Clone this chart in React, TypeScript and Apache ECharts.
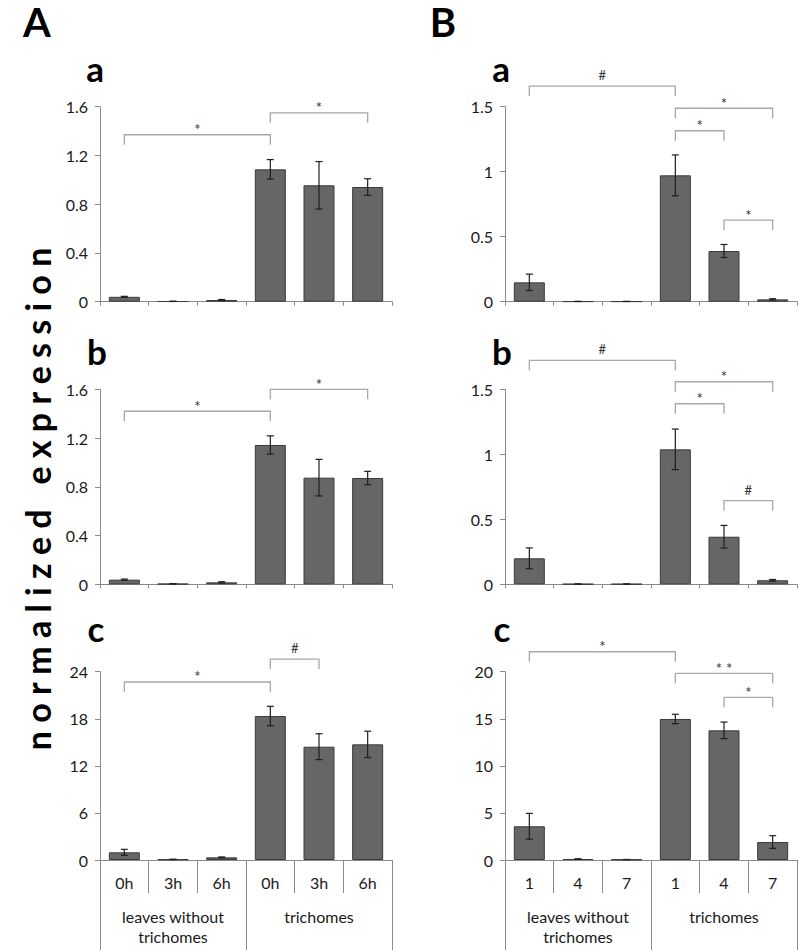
import React, { useEffect, useRef } from "react";
import * as echarts from "echarts";

// ---------- data ----------
const timeLabels = ["0h", "3h", "6h", "0h", "3h", "6h"];
const dayLabels = ["1", "4", "7", "1", "4", "7"];
const groupLabels = ["leaves without\ntrichomes", "trichomes"];

const yTicksA_ab = [0, 0.4, 0.8, 1.2, 1.6];
const yTicksA_c = [0, 6, 12, 18, 24];
const yTicksB_ab = [0, 0.5, 1, 1.5];
const yTicksB_c = [0, 5, 10, 15, 20];

const Aa_values = [0.04, 0.003, 0.014, 1.086, 0.955, 0.941];
const Aa_errors = [0.004, 0.001, 0.004, 0.08, 0.195, 0.068];
const Ab_values = [0.038, 0.004, 0.016, 1.143, 0.875, 0.872];
const Ab_errors = [0.005, 0.001, 0.005, 0.075, 0.15, 0.055];
const Ac_values = [0.98, 0.08, 0.34, 18.35, 14.44, 14.74];
const Ac_errors = [0.38, 0.02, 0.05, 1.24, 1.65, 1.68];

const Ba_values = [0.149, 0.002, 0.002, 0.972, 0.39, 0.018];
const Ba_errors = [0.063, 0, 0, 0.157, 0.05, 0.005];
const Bb_values = [0.2, 0.002, 0.002, 1.038, 0.366, 0.031];
const Bb_errors = [0.08, 0, 0, 0.156, 0.087, 0.006];
const Bc_values = [3.58, 0.1, 0.05, 14.98, 13.77, 1.91];
const Bc_errors = [1.37, 0.03, 0, 0.5, 0.88, 0.67];

// significance brackets: [fromIndex, toIndex, level, label]
const Aa_brackets: [number, number, number, string][] = [
  [0, 3, 1.37, "*"],
  [3, 5, 1.55, "*"],
];
const Ab_brackets: [number, number, number, string][] = [
  [0, 3, 1.42, "*"],
  [3, 5, 1.6, "*"],
];
const Ac_brackets: [number, number, number, string][] = [
  [0, 3, 22.69, "*"],
  [3, 4, 25.6, "#"],
];
const Ba_brackets: [number, number, number, string][] = [
  [0, 3, 1.659, "#"],
  [3, 5, 1.488, "*"],
  [3, 4, 1.315, "*"],
  [4, 5, 0.628, "*"],
];
const Bb_brackets: [number, number, number, string][] = [
  [0, 3, 1.723, "#"],
  [3, 5, 1.558, "*"],
  [3, 4, 1.389, "*"],
  [4, 5, 0.643, "#"],
];
const Bc_brackets: [number, number, number, string][] = [
  [0, 3, 22.12, "*"],
  [3, 5, 19.83, "* *"],
  [4, 5, 17.28, "*"],
];

// ---------- layout / style ----------
const FONT = "Lato, 'Open Sans', 'Noto Sans', sans-serif";
const AXIS_COLOR = "#8a8a8a";
const BAR_COLOR = "#666666";
const BAR_BORDER = "#3a3a3a";
const BRACKET_COLOR = "#a8a8a8";
const ERR_COLOR = "#1e1e1e";

type Panel = {
  left: number;
  top: number;
  height: number;
  values: number[];
  errors: number[];
  brackets: [number, number, number, string][];
  ticks: number[];
  labels: string[] | null;
};

const COL_A = 100;
const COL_B = 505;
const PLOT_W = 292;
const ROW_TOPS = [106.7, 389.3, 671.7];
const ROW_H = [195, 195, 188.3];

const panels: Panel[] = [
  { left: COL_A, top: ROW_TOPS[0], height: ROW_H[0], values: Aa_values, errors: Aa_errors, brackets: Aa_brackets, ticks: yTicksA_ab, labels: null },
  { left: COL_A, top: ROW_TOPS[1], height: ROW_H[1], values: Ab_values, errors: Ab_errors, brackets: Ab_brackets, ticks: yTicksA_ab, labels: null },
  { left: COL_A, top: ROW_TOPS[2], height: ROW_H[2], values: Ac_values, errors: Ac_errors, brackets: Ac_brackets, ticks: yTicksA_c, labels: timeLabels },
  { left: COL_B, top: ROW_TOPS[0], height: ROW_H[0], values: Ba_values, errors: Ba_errors, brackets: Ba_brackets, ticks: yTicksB_ab, labels: null },
  { left: COL_B, top: ROW_TOPS[1], height: ROW_H[1], values: Bb_values, errors: Bb_errors, brackets: Bb_brackets, ticks: yTicksB_ab, labels: null },
  { left: COL_B, top: ROW_TOPS[2], height: ROW_H[2], values: Bc_values, errors: Bc_errors, brackets: Bc_brackets, ticks: yTicksB_c, labels: dayLabels },
];

function buildOption() {
  const grid: any[] = [];
  const xAxis: any[] = [];
  const yAxis: any[] = [];
  const series: any[] = [];

  panels.forEach((p, g) => {
    grid.push({ left: p.left, top: p.top, width: PLOT_W, height: p.height });
    const isBottom = !!p.labels;
    const cats = p.labels ? p.labels : p.values.map((_, i) => String(i));
    const xIndex = xAxis.length;
    xAxis.push({
      type: "category",
      gridIndex: g,
      data: cats,
      position: "bottom",
      axisLine: { show: true, lineStyle: { color: AXIS_COLOR, width: 1 } },
      axisTick: { show: true, interval: 0, length: isBottom ? 33 : 4, lineStyle: { color: AXIS_COLOR, width: 1 } },
      axisLabel: { show: isBottom, interval: 0, fontSize: 16, color: "#1a1a1a", margin: 14, fontFamily: FONT },
      splitLine: { show: false },
    });
    if (isBottom) {
      xAxis.push({
        type: "category",
        gridIndex: g,
        data: groupLabels,
        position: "bottom",
        offset: 33,
        axisLine: { show: false },
        axisTick: { show: true, interval: 0, length: 58, lineStyle: { color: AXIS_COLOR, width: 1 } },
        axisLabel: { show: true, interval: 0, fontSize: 16, lineHeight: 20, color: "#1a1a1a", margin: 13, fontFamily: FONT },
        splitLine: { show: false },
      });
    }
    const t = p.ticks;
    yAxis.push({
      type: "value",
      gridIndex: g,
      min: t[0],
      max: t[t.length - 1],
      interval: t[1] - t[0],
      axisLine: { show: true, lineStyle: { color: AXIS_COLOR, width: 1 } },
      axisTick: { show: true, length: 5, lineStyle: { color: AXIS_COLOR } },
      axisLabel: { fontSize: 16, color: "#1a1a1a", margin: 12, fontFamily: FONT },
      splitLine: { show: false },
    });

    series.push({
      type: "bar",
      xAxisIndex: xIndex,
      yAxisIndex: g,
      data: p.values,
      barWidth: 31,
      silent: true,
      itemStyle: { color: BAR_COLOR, borderColor: BAR_BORDER, borderWidth: 1 },
    });

    series.push({
      type: "custom",
      xAxisIndex: xIndex,
      yAxisIndex: g,
      silent: true,
      clip: false,
      z: 5,
      data: p.values.map((v, i) => [i, v - p.errors[i], v + p.errors[i]]),
      renderItem: (params: any, api: any) => {
        const i = api.value(0);
        const lo = api.coord([i, api.value(1)]);
        const hi = api.coord([i, api.value(2)]);
        const w = 3.5;
        const st = { stroke: ERR_COLOR, lineWidth: 1.2 };
        return {
          type: "group",
          children: [
            { type: "line", shape: { x1: lo[0], y1: lo[1], x2: hi[0], y2: hi[1] }, style: st },
            { type: "line", shape: { x1: hi[0] - w, y1: hi[1], x2: hi[0] + w, y2: hi[1] }, style: st },
            { type: "line", shape: { x1: lo[0] - w, y1: lo[1], x2: lo[0] + w, y2: lo[1] }, style: st },
          ],
        };
      },
    });

    const br = p.brackets;
    series.push({
      type: "custom",
      xAxisIndex: xIndex,
      yAxisIndex: g,
      silent: true,
      clip: false,
      z: 6,
      data: br.map((b) => [b[0], b[2], b[1]]),
      renderItem: (params: any, api: any) => {
        const label = br[params.dataIndex][3];
        const p1 = api.coord([api.value(0), api.value(1)]);
        const p2 = api.coord([api.value(2), api.value(1)]);
        const tk = 10;
        const isHash = label.indexOf("#") >= 0;
        return {
          type: "group",
          children: [
            {
              type: "polyline",
              shape: { points: [[p1[0], p1[1] + tk], [p1[0], p1[1]], [p2[0], p2[1]], [p2[0], p2[1] + tk]] },
              style: { stroke: BRACKET_COLOR, lineWidth: 1.3, fill: null },
            },
            {
              type: "text",
              x: (p1[0] + p2[0]) / 2,
              y: p1[1] - (isHash ? 11 : 5.5),
              style: {
                text: label,
                fill: "#333",
                fontSize: isHash ? 13 : 15,
                fontFamily: FONT,
                align: "center",
                verticalAlign: "middle",
              },
            },
          ],
        };
      },
    });
  });

  const S = "\u00a0";
  const titleText = ["n", "o", "r", "m", "a", "l", "i", "z", "e", "d"].join(S) + S + S + S + ["e", "x", "p", "r", "e", "s", "s", "i", "o", "n"].join(S);

  const letter = (txt: string, x: number, y: number, size: number) => ({
    type: "text",
    x,
    y,
    style: { text: txt, fill: "#000", fontSize: size, fontWeight: "bold", fontFamily: FONT, align: "center", verticalAlign: "middle" },
  });

  const graphic = [
    letter("A", 37, 22, 40),
    letter("B", 443, 22, 40),
    letter("a", 95, 68, 35),
    letter("a", 501, 68, 35),
    letter("b", 97, 351, 35),
    letter("b", 502, 351, 35),
    letter("c", 96, 628, 35),
    letter("c", 502, 628, 35),
    {
      type: "text",
      x: 37,
      y: 499,
      rotation: Math.PI / 2,
      style: { text: titleText, fill: "#000", fontSize: 34, fontWeight: "bold", fontFamily: FONT, align: "center", verticalAlign: "middle" },
    },
  ];

  return {
    animation: false,
    backgroundColor: "#ffffff",
    grid,
    xAxis,
    yAxis,
    series,
    graphic,
  };
}

export default function App() {
  const ref = useRef<HTMLDivElement>(null);
  useEffect(() => {
    if (!ref.current) return;
    const chart = echarts.init(ref.current, undefined, { renderer: "svg" });
    chart.setOption(buildOption() as any);
    return () => chart.dispose();
  }, []);
  return <div ref={ref} style={{ position: "fixed", left: 0, top: 0, width: 800, height: 950 }} />;
}
